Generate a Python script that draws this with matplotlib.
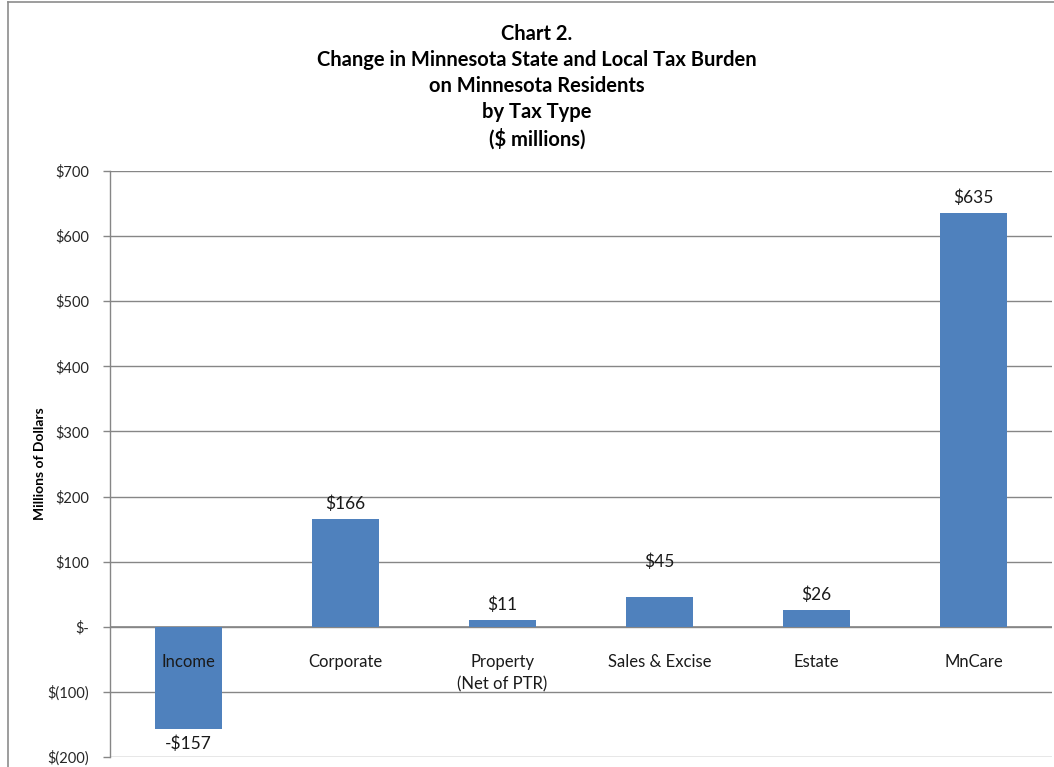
import matplotlib
matplotlib.use("Agg")
import matplotlib.pyplot as plt
from matplotlib.lines import Line2D
from matplotlib.ticker import FixedLocator

categories = ["Income", "Corporate", "Property\n(Net of PTR)", "Sales & Excise", "Estate", "MnCare"]
values = [-157, 166, 11, 45, 26, 635]
value_labels = ["-$157", "$166", "$11", "$45", "$26", "$635"]
yticks = [-200, -100, 0, 100, 200, 300, 400, 500, 600, 700]
ytick_labels = ["$(200)", "$(100)", "$-", "$100", "$200", "$300", "$400", "$500", "$600", "$700"]
title = "Chart 2.\nChange in Minnesota State and Local Tax Burden\non Minnesota Residents\nby Tax Type\n($ millions)"

plt.rcParams['font.family'] = ['Lato', 'DejaVu Sans']

W, H = 1054, 767
fig = plt.figure(figsize=(W / 100, H / 100), dpi=100)
ax = fig.add_axes([110 / W, 1 - 757 / H, (1052 - 110) / W, (757 - 171) / H])

bar_color = "#4F81BD"
grid_color = "#868686"
x = list(range(len(categories)))
ax.bar(x, values, width=0.43, color=bar_color, zorder=3)

ax.set_xlim(-0.5, len(categories) - 0.5)
ax.set_ylim(-200, 700)
ax.yaxis.set_major_locator(FixedLocator(yticks))
ax.set_yticklabels(ytick_labels, fontsize=10.5, color="#262626")
ax.tick_params(axis="y", direction="out", length=5, width=1, color=grid_color, pad=10)
ax.set_xticks([])
ax.grid(axis="y", color=grid_color, linewidth=1, zorder=0)
for s in ["top", "right", "bottom"]:
    ax.spines[s].set_visible(False)
ax.spines["left"].set_color(grid_color)
ax.spines["left"].set_linewidth(1)

# zero axis line
ax.axhline(0, color=grid_color, linewidth=1.2, zorder=2)

# category labels under zero line
for xi, cat in zip(x, categories):
    ax.annotate(cat, xy=(xi, 0), xytext=(0, -19.5), textcoords="offset points",
                ha="center", va="top", fontsize=12, color="#1a1a1a", zorder=4,
                linespacing=1.5)

# data labels
for xi, v, lab in zip(x, values, value_labels):
    if v >= 0:
        off = 11
        if lab == "$45":
            off = 26
        ax.annotate(lab, xy=(xi, v), xytext=(0, off), textcoords="offset points",
                    ha="center", va="center", fontsize=12.5, color="#1a1a1a")
    else:
        ax.annotate(lab, xy=(xi, v), xytext=(0, -10.5), textcoords="offset points",
                    ha="center", va="center", fontsize=12.5, color="#1a1a1a")

ax.set_ylabel("Millions of Dollars", fontsize=10, fontweight="bold")
ax.yaxis.set_label_coords(-(110 - 46) / (1052 - 110), 0.5)

fig.text(537 / W, 1 - 24 / H, title, ha="center", va="top", fontsize=14.5,
         fontweight="bold", linespacing=1.38, color="#000000")

# outer chart border
fig.add_artist(Line2D([8 / W, 8 / W], [0, 1 - 2 / H], color="#8c8c8c", linewidth=1.2,
                      transform=fig.transFigure))
fig.add_artist(Line2D([8 / W, 1], [1 - 2 / H, 1 - 2 / H], color="#8c8c8c", linewidth=1.2,
                      transform=fig.transFigure))

fig.savefig("out.png", dpi=100, facecolor="white")
